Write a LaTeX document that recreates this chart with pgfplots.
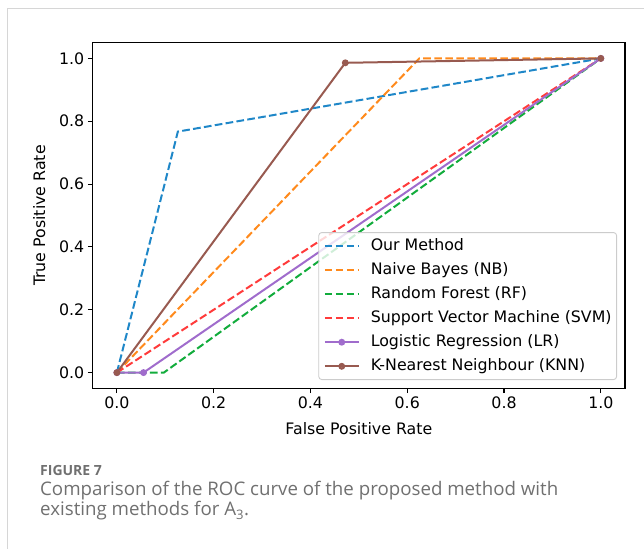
\documentclass[border=0pt]{standalone}
\usepackage{fontspec}
\setmainfont{DejaVu Sans}
\newfontfamily\capfont{Open Sans}
\usepackage{pgfplots}
\pgfplotsset{compat=1.18}

\definecolor{cBlue}{HTML}{1F87C8}
\definecolor{cOrange}{HTML}{FF8A1C}
\definecolor{cGreen}{HTML}{12AC3C}
\definecolor{cRed}{HTML}{FF3B3B}
\definecolor{cPurple}{HTML}{A06CCC}
\definecolor{cBrown}{HTML}{985A50}
\definecolor{capgray}{HTML}{707070}
\definecolor{framegray}{HTML}{D6D6D6}

\begin{document}
\begin{tikzpicture}[x=1bp,y=1bp]
\useasboundingbox (0,0) rectangle (644,-549);
\draw[line width=1.2bp, framegray] (7.3,-570) -- (7.3,-8.3) -- (660,-8.3);

\begin{axis}[
    at={(92.7bp,-388.3bp)}, anchor=south west,
    scale only axis,
    width=532.3bp, height=345.6bp,
    xmin=-0.05, xmax=1.05, ymin=-0.05, ymax=1.05,
    xtick={0,0.2,0.4,0.6,0.8,1.0},
    ytick={0,0.2,0.4,0.6,0.8,1.0},
    tick align=outside,
    xtick pos=bottom, ytick pos=left,
    axis line style={line width=1.1bp},
    tick style={line width=1.1bp, black},
    major tick length=4.9bp,
    font=\fontsize{15.8bp}{18bp}\selectfont,
    /pgf/number format/assume math mode=true,
    /pgf/number format/fixed,
    /pgf/number format/fixed zerofill,
    /pgf/number format/precision=1,
    xlabel={False Positive Rate},
    ylabel={True Positive Rate},
    every axis x label/.style={at={(axis description cs:0.5,-0.1345)}, anchor=base, inner sep=0pt},
    every axis y label/.style={at={(axis description cs:-0.0896,0.5)}, rotate=90, anchor=base, inner sep=0pt},
    legend cell align=left,
    legend image code/.code={\draw[mark repeat=2,mark phase=2,#1] plot coordinates {(0bp,0bp) (17bp,0bp) (34bp,0bp)};},
    legend style={at={(0.985,0.024)}, anchor=south east,
        draw=black!20, line width=0.9bp, rounded corners=3bp,
        fill=white, fill opacity=0.8, text opacity=1, draw opacity=1,
        inner xsep=5bp, inner ysep=5.45bp,
        row sep=8.5bp, column sep=11bp,
        nodes={inner sep=0pt, text height=12bp, text depth=3.6bp},
        font=\fontsize{15.8bp}{18bp}\selectfont},
]
\addplot[cBlue, line width=2bp, dash pattern=on 7.7bp off 3.3bp] coordinates {
    (0,0) (0.126,0.767) (1,1)
};
\addplot[cOrange, line width=2bp, dash pattern=on 7.7bp off 3.3bp] coordinates {
    (0,0) (0.625,1.0) (1,1)
};
\addplot[cGreen, line width=2bp, dash pattern=on 7.7bp off 3.3bp] coordinates {
    (0,0) (0.097,0) (1,1)
};
\addplot[cRed, line width=2bp, dash pattern=on 7.7bp off 3.3bp] coordinates {
    (0,0) (1,1)
};
\addplot[cPurple, line width=2bp, mark=*, mark size=2.4bp, mark options={solid, fill=cPurple, draw=cPurple}] coordinates {
    (0,0) (0.055,0) (1,1)
};
\addplot[cBrown, line width=2bp, mark=*, mark size=2.4bp, mark options={solid, fill=cBrown, draw=cBrown}] coordinates {
    (0,0) (0.472,0.986) (1,1)
};
\legend{Our Method, Naive Bayes (NB), Random Forest (RF), Support Vector Machine (SVM), Logistic Regression (LR), K-Nearest Neighbour (KNN)}
\end{axis}

\node[anchor=base west, inner sep=0pt, text=capgray, font=\capfont\bfseries\fontsize{14bp}{16bp}\selectfont] at (40,-475) {FIGURE 7};
\node[anchor=base west, inner sep=0pt, text=capgray, font=\capfont\fontsize{18.7bp}{21bp}\selectfont] at (40,-495) {Comparison of the ROC curve of the proposed method with};
\node[anchor=base west, inner sep=0pt, text=capgray, font=\capfont\fontsize{18.7bp}{21bp}\selectfont] at (40,-515.7) {existing methods for A\textsubscript{3}.};
\end{tikzpicture}
\end{document}
